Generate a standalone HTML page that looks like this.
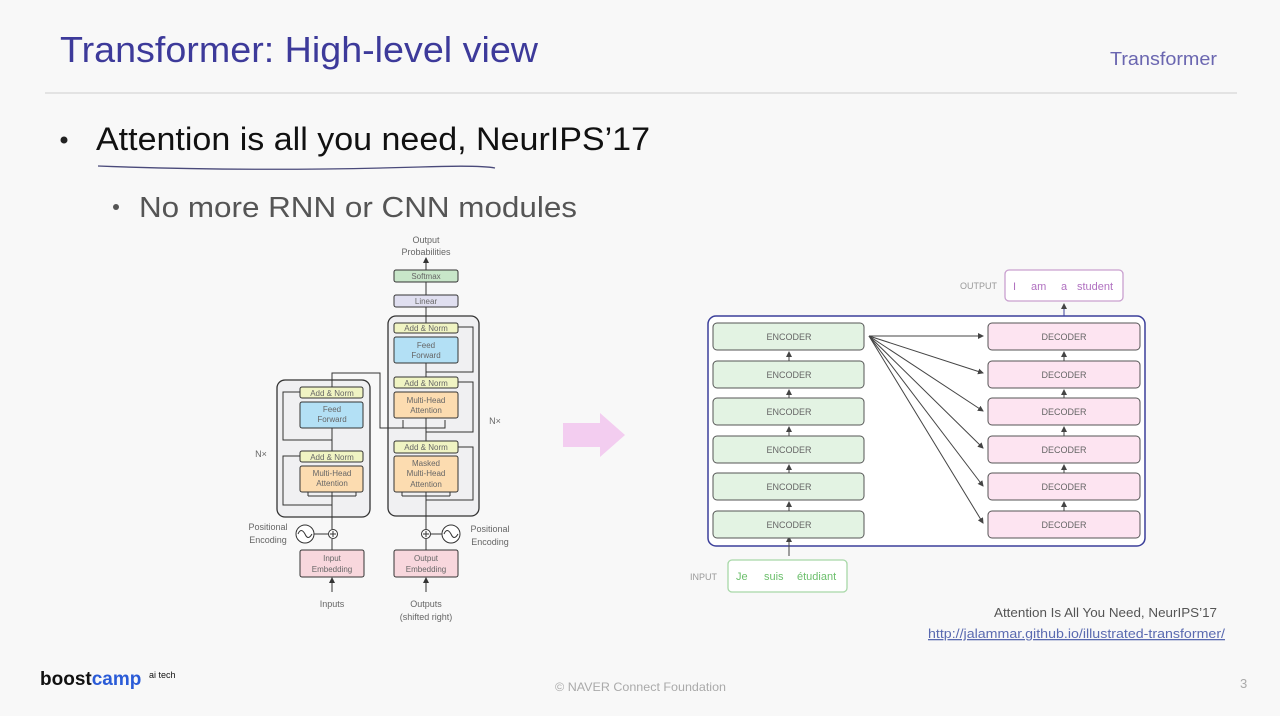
<!DOCTYPE html>
<html><head><meta charset="utf-8"><style>
html,body{margin:0;padding:0;background:#f8f8f8;}
svg{display:block;font-family:"Liberation Sans",sans-serif;}
</style></head><body>
<svg width="1280" height="716" viewBox="0 0 1280 716" xmlns="http://www.w3.org/2000/svg">
<defs>
<marker id="a" markerWidth="6" markerHeight="6" refX="5" refY="3" orient="auto"><path d="M0,0 L6,3 L0,6 z" fill="#333"/></marker>
<marker id="b" markerWidth="6" markerHeight="6" refX="5" refY="3" orient="auto"><path d="M0,0 L6,3 L0,6 z" fill="#444"/></marker>
</defs>
<rect width="1280" height="716" fill="#f8f8f8"/>
<!-- header -->
<text x="60" y="62" font-size="36" fill="#3d3a9a" textLength="478" lengthAdjust="spacingAndGlyphs">Transformer: High-level view</text>
<text x="1110" y="65" font-size="18" fill="#6a66b0" textLength="107" lengthAdjust="spacingAndGlyphs">Transformer</text>
<line x1="45" y1="93" x2="1237" y2="93" stroke="#dcdcdc" stroke-width="1.5"/>
<circle cx="64" cy="140" r="3.5" fill="#222"/>
<text x="96" y="150" font-size="32" fill="#111" textLength="554" lengthAdjust="spacingAndGlyphs">Attention is all you need, NeurIPS’17</text>
<path d="M98,166 Q250,172 420,167 Q480,165 495,168" stroke="#4a4a7a" stroke-width="1.3" fill="none"/>
<circle cx="116" cy="207" r="3" fill="#555"/>
<text x="139" y="217" font-size="29" fill="#555" textLength="438" lengthAdjust="spacingAndGlyphs">No more RNN or CNN modules</text>

<!-- transformer diagram -->
<g font-size="9" fill="#666" text-anchor="middle">
<text x="426" y="243">Output</text><text x="426" y="255">Probabilities</text>
<text x="332" y="607">Inputs</text>
<text x="426" y="607">Outputs</text><text x="426" y="620">(shifted right)</text>
<text x="268" y="530">Positional</text><text x="268" y="543">Encoding</text>
<text x="490" y="532">Positional</text><text x="490" y="545">Encoding</text>
<text x="261" y="457">N×</text><text x="495" y="424">N×</text>
</g>
<rect x="277" y="380" width="93" height="137" rx="8" fill="#f0f0f2" stroke="#333" stroke-width="1.3"/>
<rect x="388" y="316" width="91" height="200" rx="8" fill="#f0f0f2" stroke="#333" stroke-width="1.3"/>
<g stroke="#333" stroke-width="1" fill="none">
<line x1="332" y1="592" x2="332" y2="578" marker-end="url(#a)"/>
<line x1="426" y1="592" x2="426" y2="578" marker-end="url(#a)"/>
<line x1="332" y1="550" x2="332" y2="539"/>
<line x1="426" y1="550" x2="426" y2="539"/>
<line x1="332" y1="529" x2="332" y2="492"/>
<line x1="426" y1="529" x2="426" y2="492"/>
<line x1="313" y1="534" x2="328" y2="534"/>
<line x1="431" y1="534" x2="443" y2="534"/>
<line x1="332" y1="462" x2="332" y2="428"/>
<line x1="426" y1="453" x2="426" y2="418"/>
<line x1="426" y1="377" x2="426" y2="363"/>
<line x1="426" y1="323" x2="426" y2="307"/>
<line x1="426" y1="295" x2="426" y2="282"/>
<line x1="426" y1="270" x2="426" y2="258" marker-end="url(#a)"/>
<path d="M332,505 L283,505 L283,456 L300,456"/>
<path d="M332,440 L283,440 L283,392 L300,392"/>
<path d="M426,500 L473,500 L473,447 L458,447"/>
<path d="M426,432 L473,432 L473,382 L458,382"/>
<path d="M426,372 L473,372 L473,327 L458,327"/>
<path d="M332,387 L332,373 L380,373 L380,428 L403,428 L403,420"/>
<path d="M403,428 L445,428 L445,420"/>
<path d="M426,436 L426,418"/>
<path d="M308,496 L308,492 M356,496 L356,492 M308,496 L356,496"/>
<path d="M402,496 L402,492 M450,496 L450,492 M402,496 L450,496"/>
</g>
<g stroke="#333" stroke-width="1">
<rect x="394" y="270" width="64" height="12" rx="2" fill="#c8e6c9"/>
<rect x="394" y="295" width="64" height="12" rx="2" fill="#e0dff0"/>
<rect x="394" y="323" width="64" height="10" rx="2" fill="#f0f4c3"/>
<rect x="394" y="337" width="64" height="26" rx="2" fill="#b3e0f5"/>
<rect x="394" y="377" width="64" height="11" rx="2" fill="#f0f4c3"/>
<rect x="394" y="392" width="64" height="26" rx="2" fill="#fcdcb0"/>
<rect x="394" y="441" width="64" height="12" rx="2" fill="#f0f4c3"/>
<rect x="394" y="456" width="64" height="36" rx="2" fill="#fcdcb0"/>
<rect x="300" y="387" width="63" height="11" rx="2" fill="#f0f4c3"/>
<rect x="300" y="402" width="63" height="26" rx="2" fill="#b3e0f5"/>
<rect x="300" y="451" width="63" height="11" rx="2" fill="#f0f4c3"/>
<rect x="300" y="466" width="63" height="26" rx="2" fill="#fcdcb0"/>
<rect x="300" y="550" width="64" height="27" rx="2" fill="#f8d7dd"/>
<rect x="394" y="550" width="64" height="27" rx="2" fill="#f8d7dd"/>
<circle cx="333" cy="534" r="4.5" fill="#fff"/><circle cx="426" cy="534" r="4.5" fill="#fff"/>
<circle cx="305" cy="534" r="9" fill="#fff"/><circle cx="451" cy="534" r="9" fill="#fff"/>
</g>
<g stroke="#333" stroke-width="1" fill="none">
<path d="M330,534h6M333,531v6M423,534h6M426,531v6"/>
<path d="M298,534 q3,-7 7,0 q3,7 7,0"/><path d="M444,534 q3,-7 7,0 q3,7 7,0"/>
</g>
<g font-size="8" fill="#666" text-anchor="middle">
<text x="426" y="279">Softmax</text><text x="426" y="304">Linear</text>
<text x="426" y="331">Add &amp; Norm</text><text x="426" y="348">Feed</text><text x="426" y="358">Forward</text>
<text x="426" y="386">Add &amp; Norm</text><text x="426" y="403">Multi-Head</text><text x="426" y="413">Attention</text>
<text x="426" y="450">Add &amp; Norm</text><text x="426" y="466">Masked</text><text x="426" y="476">Multi-Head</text><text x="426" y="487">Attention</text>
<text x="332" y="396">Add &amp; Norm</text><text x="332" y="412">Feed</text><text x="332" y="422">Forward</text>
<text x="332" y="460">Add &amp; Norm</text><text x="332" y="476">Multi-Head</text><text x="332" y="486">Attention</text>
<text x="332" y="561">Input</text><text x="332" y="572">Embedding</text>
<text x="426" y="561">Output</text><text x="426" y="572">Embedding</text>
</g>

<!-- pink arrow -->
<path d="M563,423 L600,423 L600,413 L625,435 L600,457 L600,447 L563,447 z" fill="#f3cdf0"/>

<!-- encoder/decoder diagram -->
<rect x="708" y="316" width="437" height="230" rx="8" fill="#fff" stroke="#3b3f9a" stroke-width="1.5"/>
<g stroke="#444" stroke-width="1" fill="none">
<line x1="789" y1="556" x2="789" y2="537" marker-end="url(#b)"/>
<line x1="1064" y1="316" x2="1064" y2="304" marker-end="url(#b)" stroke="#3b3f9a"/>
</g>
<g font-size="9" text-anchor="middle">
<g fill="#e3f3e3" stroke="#555" stroke-width="1">
<rect x="713" y="323" width="151" height="27" rx="4"/><rect x="713" y="361" width="151" height="27" rx="4"/>
<rect x="713" y="398" width="151" height="27" rx="4"/><rect x="713" y="436" width="151" height="27" rx="4"/>
<rect x="713" y="473" width="151" height="27" rx="4"/><rect x="713" y="511" width="151" height="27" rx="4"/>
</g>
<g fill="#fde4f1" stroke="#555" stroke-width="1">
<rect x="988" y="323" width="152" height="27" rx="4"/><rect x="988" y="361" width="152" height="27" rx="4"/>
<rect x="988" y="398" width="152" height="27" rx="4"/><rect x="988" y="436" width="152" height="27" rx="4"/>
<rect x="988" y="473" width="152" height="27" rx="4"/><rect x="988" y="511" width="152" height="27" rx="4"/>
</g>
<g fill="#666">
<text x="789" y="340">ENCODER</text><text x="789" y="378">ENCODER</text><text x="789" y="415">ENCODER</text>
<text x="789" y="453">ENCODER</text><text x="789" y="490">ENCODER</text><text x="789" y="528">ENCODER</text>
<text x="1064" y="340">DECODER</text><text x="1064" y="378">DECODER</text><text x="1064" y="415">DECODER</text>
<text x="1064" y="453">DECODER</text><text x="1064" y="490">DECODER</text><text x="1064" y="528">DECODER</text>
</g>
</g>
<g stroke="#444" stroke-width="1" fill="none">
<line x1="789" y1="361" x2="789" y2="352" marker-end="url(#b)"/><line x1="789" y1="398" x2="789" y2="390" marker-end="url(#b)"/>
<line x1="789" y1="436" x2="789" y2="427" marker-end="url(#b)"/><line x1="789" y1="473" x2="789" y2="465" marker-end="url(#b)"/>
<line x1="789" y1="511" x2="789" y2="502" marker-end="url(#b)"/>
<line x1="1064" y1="361" x2="1064" y2="352" marker-end="url(#b)"/><line x1="1064" y1="398" x2="1064" y2="390" marker-end="url(#b)"/>
<line x1="1064" y1="436" x2="1064" y2="427" marker-end="url(#b)"/><line x1="1064" y1="473" x2="1064" y2="465" marker-end="url(#b)"/>
<line x1="1064" y1="511" x2="1064" y2="502" marker-end="url(#b)"/>
<line x1="869" y1="336" x2="983" y2="336" marker-end="url(#b)"/>
<line x1="869" y1="336" x2="983" y2="373" marker-end="url(#b)"/>
<line x1="869" y1="336" x2="983" y2="411" marker-end="url(#b)"/>
<line x1="869" y1="336" x2="983" y2="448" marker-end="url(#b)"/>
<line x1="869" y1="336" x2="983" y2="486" marker-end="url(#b)"/>
<line x1="869" y1="336" x2="983" y2="523" marker-end="url(#b)"/>
</g>
<rect x="1005" y="270" width="118" height="31" rx="4" fill="#fff" stroke="#c9a0cf" stroke-width="1.3"/>
<text x="960" y="289" font-size="9" fill="#999">OUTPUT</text>
<g font-size="11" fill="#b070c0"><text x="1013" y="290">I</text><text x="1031" y="290">am</text><text x="1061" y="290">a</text><text x="1077" y="290">student</text></g>
<rect x="728" y="560" width="119" height="32" rx="4" fill="#fff" stroke="#a8d8a8" stroke-width="1.3"/>
<text x="690" y="580" font-size="9" fill="#999">INPUT</text>
<g font-size="11" fill="#6cbf6c"><text x="736" y="580">Je</text><text x="764" y="580">suis</text><text x="797" y="580">étudiant</text></g>

<!-- footer -->
<text x="1217" y="617" font-size="13" fill="#555" text-anchor="end" textLength="223" lengthAdjust="spacingAndGlyphs">Attention Is All You Need, NeurIPS’17</text>
<text x="1225" y="638" font-size="13" fill="#5a6ab0" text-anchor="end" text-decoration="underline" textLength="297" lengthAdjust="spacingAndGlyphs">http://jalammar.github.io/illustrated-transformer/</text>
<text x="40" y="685" font-size="19" font-weight="bold" fill="#111">boost<tspan fill="#2a5bd7">camp</tspan></text>
<text x="149" y="678" font-size="9" fill="#111">ai tech</text>
<text x="555" y="691" font-size="12" fill="#aaa" textLength="171" lengthAdjust="spacingAndGlyphs">© NAVER Connect Foundation</text>
<text x="1240" y="688" font-size="13" fill="#aaa">3</text>
</svg>
</body></html>
